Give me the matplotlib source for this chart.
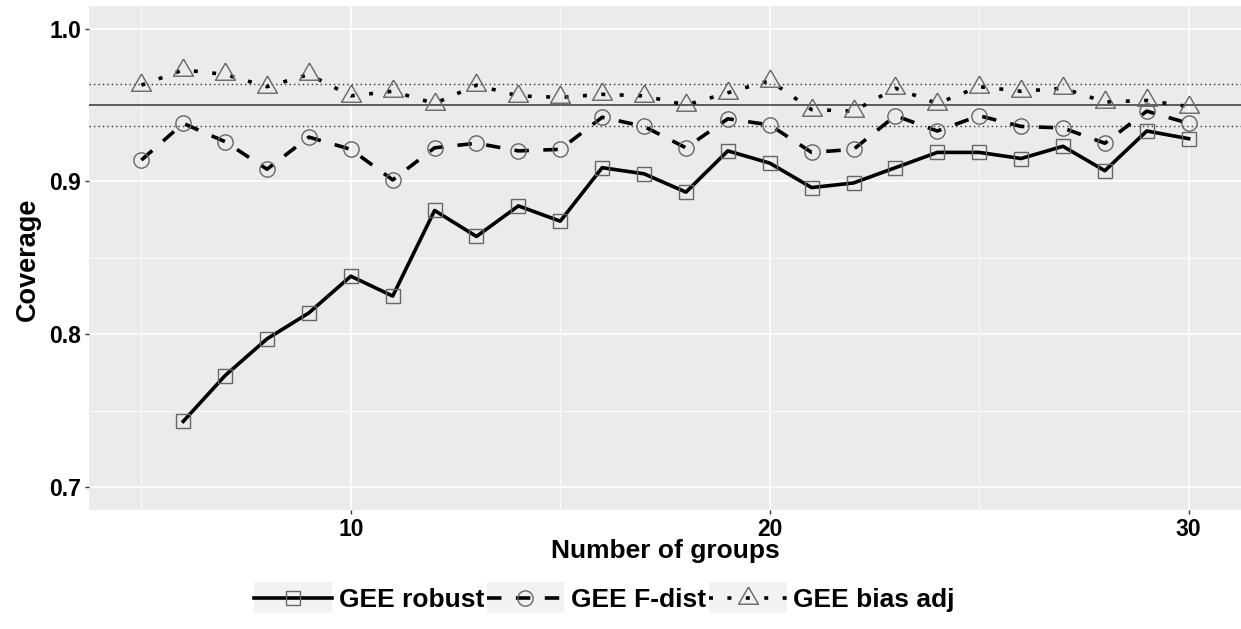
import numpy as np
import matplotlib
matplotlib.use("Agg")
from matplotlib import pyplot as plt
from matplotlib.patches import Rectangle
from matplotlib.legend_handler import HandlerLine2D

plt.rcParams['font.family'] = ['Liberation Sans', 'DejaVu Sans']
plt.rcParams['font.weight'] = 'bold'

# Coverage values
robust_groups = list(range(6, 31))
robust_cov = [0.743, 0.773, 0.797, 0.814, 0.838, 0.825, 0.881, 0.864, 0.884, 0.874,
              0.909, 0.905, 0.893, 0.920, 0.912, 0.896, 0.899, 0.909, 0.919, 0.919,
              0.915, 0.923, 0.907, 0.933, 0.928]

fdist_groups = list(range(5, 31))
fdist_cov = [0.914, 0.938, 0.926, 0.908, 0.929, 0.921, 0.901, 0.922, 0.925, 0.920,
             0.921, 0.942, 0.936, 0.922, 0.941, 0.937, 0.919, 0.921, 0.943, 0.933,
             0.943, 0.936, 0.935, 0.925, 0.946, 0.938]

biasadj_groups = list(range(5, 31))
biasadj_cov = [0.963, 0.973, 0.970, 0.962, 0.970, 0.956, 0.959, 0.951, 0.963, 0.956,
               0.955, 0.957, 0.956, 0.950, 0.958, 0.966, 0.947, 0.946, 0.961, 0.951,
               0.962, 0.959, 0.961, 0.952, 0.953, 0.949]

nominal = 0.95
mc_band = [0.9365, 0.9635]

series_labels = ['GEE robust', 'GEE F-dist', 'GEE bias adj']

# triangle centred on its centroid, like R's pch 2
tri = [(0, 1), (-0.866, -0.5), (0.866, -0.5), (0, 1)]


class KeyHandler(HandlerLine2D):
    # legend key with the light grey box behind it
    def create_artists(self, legend, orig_handle, xdescent, ydescent,
                       width, height, fontsize, trans):
        arts = super().create_artists(legend, orig_handle, xdescent, ydescent,
                                      width, height, fontsize, trans)
        bg = Rectangle((-xdescent, -ydescent - 0.35 * height), width, 1.7 * height,
                       facecolor='#f2f2f2', edgecolor='none', transform=trans)
        return [bg] + arts


fig = plt.figure(figsize=(12.41, 6.29), dpi=100)
ax = fig.add_axes([89 / 1241, 1 - 510 / 629, 1 - 89 / 1241, (510 - 5.7) / 629])
ax.set_facecolor('#ebebeb')
for s in ax.spines.values():
    s.set_visible(False)

ax.set_xlim(3.75, 31.25)
ax.set_ylim(0.685, 1.015)
ax.set_xticks([10, 20, 30])
ax.set_xticks([5, 15, 25], minor=True)
ax.set_yticks([0.7, 0.8, 0.9, 1.0])
ax.set_yticks([0.75, 0.85, 0.95], minor=True)
ax.set_yticklabels(['0.7', '0.8', '0.9', '1.0'])
ax.grid(which='major', color='white', linewidth=1.2)
ax.grid(which='minor', color='white', linewidth=0.6)
ax.set_axisbelow(True)
ax.tick_params(which='major', length=3, width=1, color='#333333', labelsize=16.5,
               labelcolor='black', pad=2.5)
ax.tick_params(which='minor', length=0)

ax.axhline(nominal, color='#333333', linewidth=1.1, zorder=2)
for b in mc_band:
    ax.axhline(b, color='#333333', linewidth=1.0, dashes=(1, 2.2), zorder=2)

mk = dict(markerfacecolor='none', markeredgecolor='#666666', markeredgewidth=1.0)
l1, = ax.plot(robust_groups, robust_cov, color='black', linewidth=2.6,
              marker='s', markersize=10.5, zorder=3, **mk)
l2, = ax.plot(fdist_groups, fdist_cov, color='black', linewidth=2.6,
              dashes=(4, 4), marker='o', markersize=11, zorder=3, **mk)
l3, = ax.plot(biasadj_groups, biasadj_cov, color='black', linewidth=2.6,
              dashes=(1.1, 4.0), marker=tri, markersize=16.5, zorder=3, **mk)

fig.text(28 / 1241, 1 - 259 / 629, 'Coverage', rotation=90, ha='center', va='center',
         fontsize=19.5, fontweight='bold')
fig.text(665 / 1241, 1 - 551 / 629, 'Number of groups', ha='center', va='center',
         fontsize=19, fontweight='bold')

fig.legend([l1, l2, l3], series_labels, loc='center', bbox_to_anchor=(0.487, 1 - 600 / 629),
           ncol=3, frameon=False, fontsize=19, handlelength=2.95, handletextpad=0.25,
           columnspacing=0.1, numpoints=1,
           handler_map={l1: KeyHandler(), l2: KeyHandler(), l3: KeyHandler()})

fig.savefig('out.png', dpi=100)
